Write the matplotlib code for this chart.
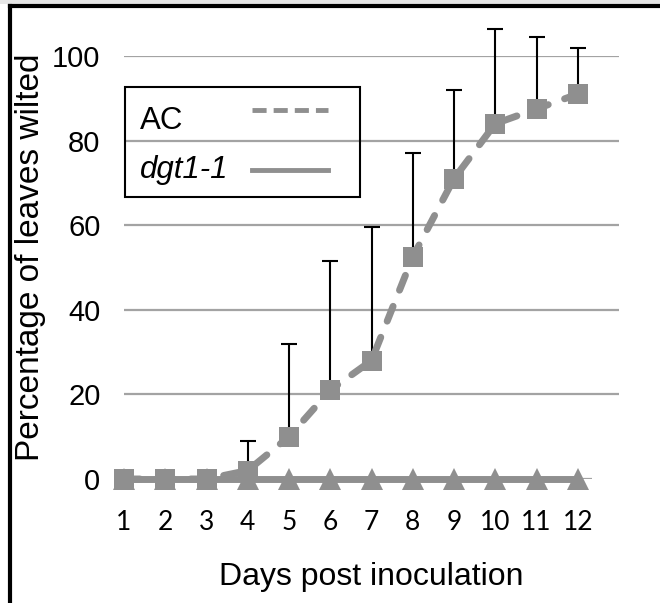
import matplotlib.pyplot as plt
from matplotlib.lines import Line2D
from matplotlib.patches import Rectangle

# data
days = [1, 2, 3, 4, 5, 6, 7, 8, 9, 10, 11, 12]
ac_mean = [0, 0, 0, 2, 10, 21, 28, 52.5, 71, 84, 87.5, 91]
ac_err_up = [0, 0, 0, 7, 22, 30.5, 31.5, 24.5, 21, 22.5, 17, 11]
dgt_mean = [0, 0, 0, 0, 0, 0, 0, 0, 0, 0, 0, 0]
y_ticks = [0, 20, 40, 60, 80, 100]
series_names = ['AC', 'dgt1-1']

gray = '#8f8f8f'
grid_gray = '#a3a3a3'
arial = 'Liberation Sans'

W, H = 660, 603
fig = plt.figure(figsize=(W / 100, H / 100), dpi=100)
ax = fig.add_axes([124 / W, 1 - 479 / H, 495 / W, 423 / H])
ax.set_xlim(1, 13)
ax.set_ylim(0, 100)

# gridlines (the zero line is shorter, like the category axis)
ax.hlines(y_ticks[1:], 1, 13, color=grid_gray, lw=1.6, zorder=0)
ax.hlines(0, 0.9, 12.35, color=grid_gray, lw=1.6, zorder=0)

# error bars, upper only
zeros = [0] * len(days)
ax.errorbar(days, ac_mean, yerr=[zeros, ac_err_up], fmt='none', ecolor='black',
            elinewidth=1.5, capsize=5.5, capthick=1.5, zorder=2, clip_on=False)

ax.plot(days, ac_mean, color=gray, lw=5, linestyle=(0, (2.3, 2.5)),
        dash_capstyle='round', marker='s', markersize=15,
        markeredgewidth=0, zorder=3, clip_on=False)
ax.plot(days, dgt_mean, color=gray, lw=5, marker='^', markersize=16,
        markeredgewidth=0, zorder=4, clip_on=False)

for s in ax.spines.values():
    s.set_visible(False)

ax.set_xticks(days)
ax.set_xticklabels([str(d) for d in days], fontfamily='Lato', fontsize=19)
ax.set_yticks(y_ticks)
ax.set_yticklabels([str(v) for v in y_ticks], fontfamily=arial, fontsize=21)
ax.tick_params(axis='x', length=0, pad=22)
ax.tick_params(axis='y', length=0, pad=17)

ax.set_xlabel('Days post inoculation', fontfamily=arial, fontsize=23, labelpad=20)
fig.text(31 / W, 1 - 257 / H, 'Percentage of leaves wilted', fontfamily=arial,
         fontsize=24, rotation=90, ha='center', va='center')

# legend box in the Excel style: label on the left, line sample on the right
tr = ax.transAxes
ax.add_patch(Rectangle((0.002, 0.6667), 0.475, 0.26, transform=tr, fill=False,
                       edgecolor='black', lw=1.5, zorder=5, clip_on=False))
ax.text(0.0323, 0.8274, series_names[0], transform=tr, fontfamily=arial,
        fontsize=22.5, va='baseline', zorder=6)
ax.text(0.0323, 0.7116, series_names[1], transform=tr, fontfamily=arial,
        fontsize=22.5, style='italic', va='baseline', zorder=6)
ax.add_line(Line2D([0.2586, 0.4121], [0.8723, 0.8723], transform=tr, color=gray,
                   lw=3.5, linestyle=(0, (2.9, 1.45)), zorder=6))
ax.add_line(Line2D([0.2586, 0.4121], [0.7305, 0.7305], transform=tr, color=gray,
                   lw=3.5, zorder=6))

# outer frame (only top and left visible in the crop)
fig.patches.append(Rectangle((0, 1 - 4 / H), 1, 4 / H, transform=fig.transFigure,
                             color='#e6e6e6', lw=0))
fig.add_artist(Line2D([10 / W, 10 / W], [0, 1 - 6 / H], transform=fig.transFigure,
                      color='black', lw=3))
fig.add_artist(Line2D([10 / W, 1], [1 - 6 / H, 1 - 6 / H], transform=fig.transFigure,
                      color='black', lw=3))

fig.savefig('out.png', dpi=100)
